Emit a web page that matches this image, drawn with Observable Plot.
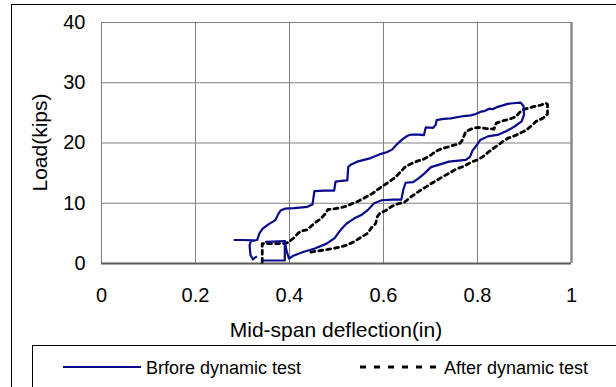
<!DOCTYPE html>
<html>
<head>
<meta charset="utf-8">
<script src="https://cdn.jsdelivr.net/npm/d3@7"></script>
<script src="https://cdn.jsdelivr.net/npm/@observablehq/plot@0.6"></script>
<style>
  html, body { margin: 0; padding: 0; background: #fff; }
  body { width: 616px; height: 387px; overflow: hidden; position: relative;
         font-family: "Liberation Sans", Arial, Helvetica, sans-serif; }
  #outer { position: absolute; left: 11px; top: 4px; width: 1000px; height: 1000px;
           border: 1px solid #000; box-sizing: border-box; }
  #chart { position: absolute; left: 0; top: 0; }
  #legend { position: absolute; left: 0; top: 0; }
</style>
</head>
<body>
<div id="outer"></div>
<div id="chart"></div>
<svg id="legend" width="616" height="387"></svg>
<script>
// Axis ticks
const xTicks = [0, 0.2, 0.4, 0.6, 0.8, 1];
const yTicks = [0, 10, 20, 30, 40];

// Series names (as printed in the legend)
const seriesNames = ["Brfore dynamic test", "After dynamic test"];

// Before dynamic test: short initial hook at the start of the record
const beforeHook = [
  [0.283, 3.9], [0.300, 3.9], [0.327, 3.85], [0.318, 3.7], [0.315, 3.0],
  [0.317, 1.4], [0.322, 0.7], [0.329, 1.1]
];

// Before dynamic test: small seating loop near zero load
const beforeSeat = [
  [0.350, 3.6], [0.390, 3.7], [0.390, 0.5], [0.344, 0.5]
];

// Before dynamic test: main load-deflection loop (lower branch up, upper branch back)
const beforeLoop = [
  [0.390, 3.7], [0.394, 2.0], [0.399, 0.8], [0.408, 1.3], [0.429, 1.9], [0.454, 2.5],
  [0.479, 3.3], [0.496, 4.2], [0.508, 5.5], [0.521, 6.6], [0.538, 7.5], [0.554, 8.1],
  [0.567, 8.9], [0.580, 10.0], [0.596, 10.5], [0.620, 10.6], [0.638, 10.6], [0.642, 12.2],
  [0.647, 13.4], [0.663, 13.5], [0.676, 14.2], [0.688, 15.0], [0.701, 16.0], [0.722, 16.5],
  [0.739, 16.9], [0.775, 17.2], [0.784, 17.7], [0.789, 18.7], [0.797, 19.5], [0.806, 20.5],
  [0.822, 21.1], [0.845, 21.4], [0.862, 22.0], [0.878, 22.7], [0.894, 23.6], [0.899, 24.7],
  [0.898, 26.1], [0.892, 26.7], [0.875, 26.6], [0.864, 26.5], [0.852, 26.2], [0.843, 26.0],
  [0.832, 25.6], [0.825, 25.7], [0.815, 25.3], [0.807, 25.2], [0.796, 24.8], [0.786, 24.6],
  [0.775, 24.5], [0.765, 24.4], [0.743, 24.1], [0.728, 24.0], [0.713, 23.8], [0.711, 23.0],
  [0.705, 22.5], [0.690, 22.6], [0.686, 21.3], [0.675, 21.4], [0.660, 21.4], [0.651, 21.2],
  [0.640, 20.6], [0.630, 19.9], [0.618, 18.9], [0.608, 18.5], [0.595, 18.2], [0.573, 17.5],
  [0.544, 16.9], [0.530, 16.4], [0.525, 16.0], [0.523, 13.8], [0.510, 13.7], [0.498, 13.6],
  [0.495, 12.1], [0.475, 12.1], [0.453, 12.0], [0.449, 9.8], [0.438, 9.4], [0.410, 9.2],
  [0.390, 9.1], [0.381, 8.8], [0.376, 8.2], [0.370, 7.2], [0.355, 6.5], [0.343, 5.8],
  [0.336, 5.0], [0.333, 4.3], [0.331, 3.9]
];

// After dynamic test: full loop starting from the seating offset
const afterLoop = [
  [0.342, 0.2], [0.342, 3.3], [0.390, 3.3], [0.400, 3.6], [0.402, 3.8], [0.410, 4.3],
  [0.418, 5.0], [0.425, 5.4], [0.438, 5.6], [0.446, 6.2], [0.455, 6.8], [0.466, 7.4],
  [0.477, 8.3], [0.482, 9.0], [0.491, 9.0], [0.505, 9.2], [0.521, 9.5], [0.535, 10.0],
  [0.548, 10.4], [0.562, 11.0], [0.576, 11.6], [0.590, 12.4], [0.601, 13.0], [0.613, 13.6],
  [0.625, 14.3], [0.635, 15.1], [0.647, 16.1], [0.660, 16.6], [0.672, 17.0], [0.685, 17.3],
  [0.697, 17.8], [0.711, 18.6], [0.722, 19.0], [0.735, 19.3], [0.748, 19.6], [0.762, 19.9],
  [0.768, 20.5], [0.775, 21.9], [0.786, 22.3], [0.800, 22.6], [0.818, 22.4], [0.835, 22.3],
  [0.840, 23.3], [0.855, 23.7], [0.870, 24.0], [0.882, 24.4], [0.890, 25.1], [0.896, 25.5],
  [0.917, 26.0], [0.935, 26.3], [0.946, 26.6], [0.949, 26.4], [0.949, 24.8], [0.939, 24.1],
  [0.925, 23.6], [0.917, 23.0], [0.903, 22.1], [0.882, 21.3], [0.865, 20.8], [0.853, 20.2],
  [0.839, 19.4], [0.825, 18.6], [0.811, 17.7], [0.800, 17.2], [0.789, 16.9], [0.770, 16.1],
  [0.755, 15.7], [0.740, 15.0], [0.726, 14.4], [0.711, 13.7], [0.700, 13.2], [0.688, 12.6],
  [0.672, 11.8], [0.659, 11.1], [0.645, 10.2], [0.630, 9.9], [0.618, 9.5], [0.605, 8.8],
  [0.592, 8.3], [0.587, 7.8], [0.583, 6.6], [0.575, 6.0], [0.566, 5.0], [0.553, 4.4],
  [0.537, 3.6], [0.520, 3.0], [0.505, 2.7], [0.494, 2.5], [0.470, 2.2], [0.445, 1.9]
];

const blue = "#0a0a8c";
const black = "#000000";
const grid = "#808080";
const font = "'Liberation Sans', Arial, Helvetica, sans-serif";

const W = 616, H = 345;
const mL = 101, mR = 45, mT = 22, mB = 82;

const solid = {x: d => d[0], y: d => d[1], stroke: blue, strokeWidth: 2.2, curve: "linear"};
const dashed = {x: d => d[0], y: d => d[1], stroke: black, strokeWidth: 2.8,
                strokeDasharray: "4,4", curve: "linear"};

const chart = Plot.plot({
  width: W, height: H,
  marginLeft: mL, marginRight: mR, marginTop: mT, marginBottom: mB,
  x: {domain: [0, 1]},
  y: {domain: [0, 40]},
  style: {fontFamily: font, background: "transparent", color: "#000"},
  marks: [
    Plot.ruleX(xTicks, {stroke: grid, strokeWidth: 1, strokeOpacity: 1}),
    Plot.ruleY(yTicks, {stroke: grid, strokeWidth: 1, strokeOpacity: 1}),
    Plot.ruleX([1], {stroke: "#8a8a8a", strokeWidth: 2.5}),
    Plot.ruleY([0], {stroke: "#5a5a5a", strokeWidth: 2}),
    Plot.line(afterLoop, dashed),
    Plot.line(beforeHook, solid),
    Plot.line(beforeSeat, solid),
    Plot.line(beforeLoop, solid),
    Plot.axisX(xTicks, {tickSize: 0, tickPadding: 24, fontSize: 20, label: null,
                        tickFormat: d => String(d)}),
    Plot.axisY(yTicks, {tickSize: 0, tickPadding: 16, fontSize: 20, label: null,
                        tickFormat: d => String(d)})
  ]
});
document.getElementById("chart").appendChild(chart);

// Axis titles
const svg = d3.select(chart);
svg.append("text")
  .attr("x", mL + (W - mL - mR) / 2).attr("y", 336.5)
  .attr("text-anchor", "middle").attr("font-size", 21).attr("font-family", font)
  .attr("fill", "#000")
  .text("Mid-span deflection(in)");
svg.append("text")
  .attr("transform", `translate(46.5,${mT + (H - mT - mB) / 2}) rotate(-90)`)
  .attr("text-anchor", "middle").attr("font-size", 21).attr("font-family", font)
  .attr("fill", "#000")
  .text("Load(kips)");

// Legend box with the two series keys
const lg = d3.select("#legend");
lg.append("rect").attr("x", 32.5).attr("y", 345.5).attr("width", 700).attr("height", 100)
  .attr("fill", "none").attr("stroke", "#000").attr("stroke-width", 1);
const keys = [
  {name: seriesNames[0], x0: 63, x1: 141, tx: 146, stroke: blue, dash: null, w: 2.2},
  {name: seriesNames[1], x0: 360, x1: 441, tx: 444, stroke: black, dash: "6,8", w: 3}
];
for (const k of keys) {
  lg.append("line").attr("x1", k.x0).attr("x2", k.x1).attr("y1", 367).attr("y2", 367)
    .attr("stroke", k.stroke).attr("stroke-width", k.w)
    .attr("stroke-dasharray", k.dash);
  lg.append("text").attr("x", k.tx).attr("y", 373.5)
    .attr("font-size", 18).attr("font-family", font).attr("fill", "#000")
    .text(k.name);
}
</script>
</body>
</html>
